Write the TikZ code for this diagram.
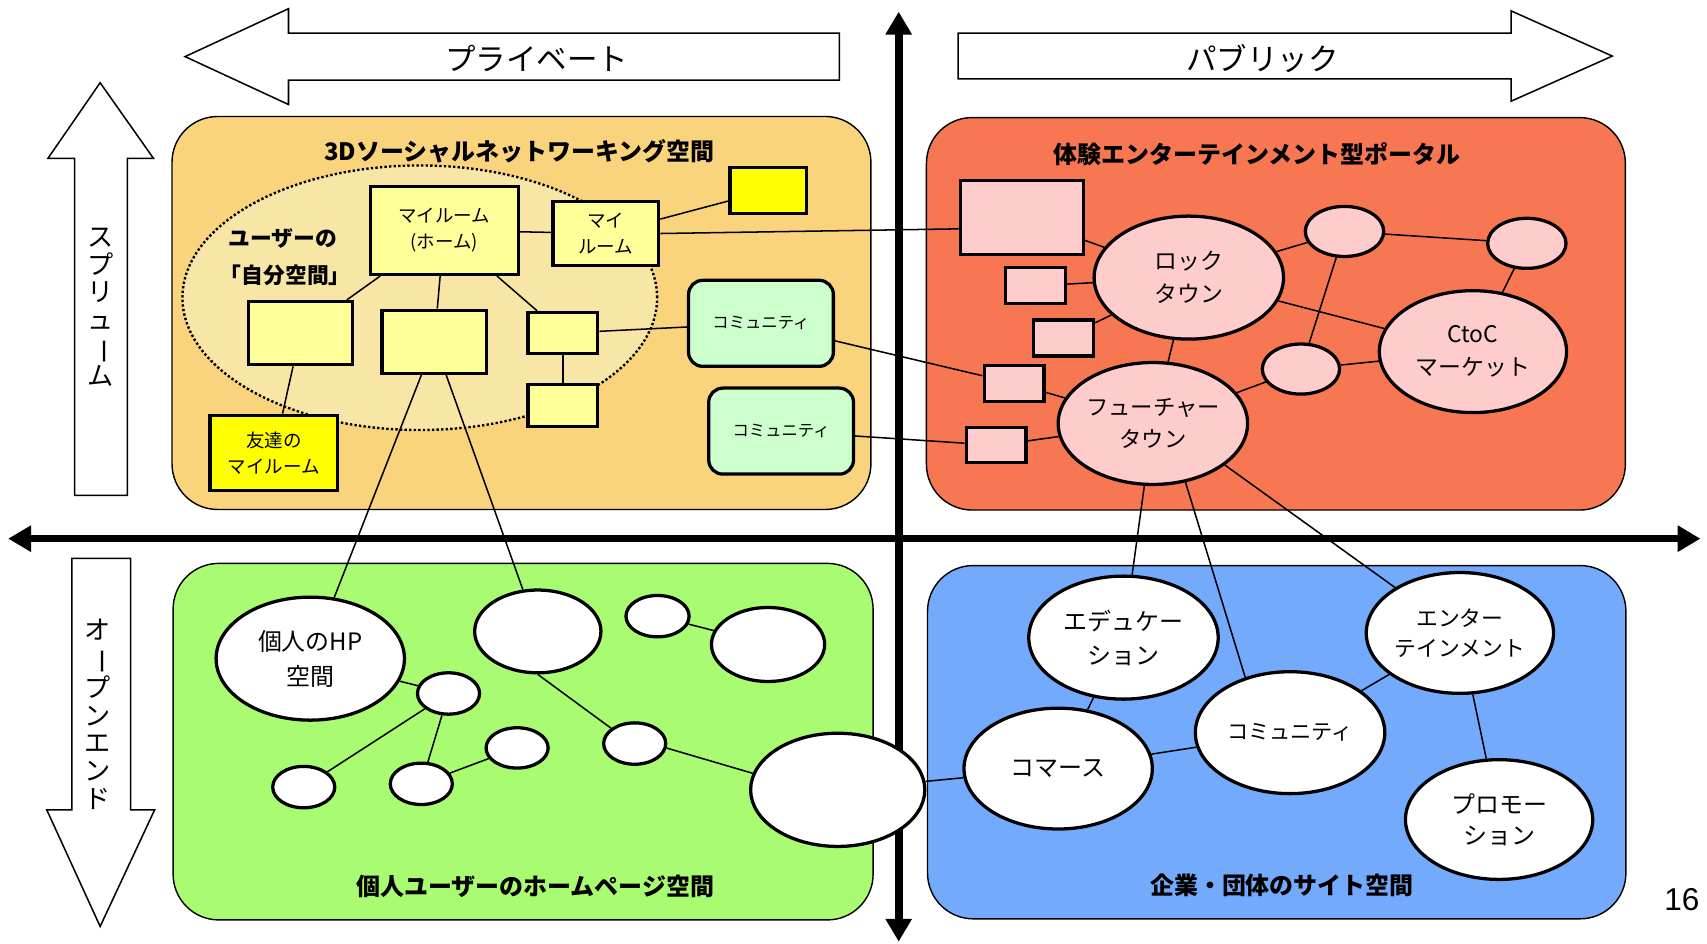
\documentclass[tikz,border=0pt]{standalone}
\usepackage{fontspec}
\setmainfont{Noto Sans CJK JP}
\newfontfamily\numfont{Liberation Sans}
\usepackage{graphicx}
\usetikzlibrary{shapes.geometric,arrows.meta}
\definecolor{orangeQ}{HTML}{FAD47D}
\definecolor{dotfill}{HTML}{F8E6A6}
\definecolor{redQ}{HTML}{F77752}
\definecolor{greenQ}{HTML}{A9FB72}
\definecolor{blueQ}{HTML}{74AAFC}
\definecolor{lyellow}{HTML}{FFFF99}
\definecolor{yyellow}{HTML}{FFFF00}
\definecolor{pinkN}{HTML}{FFCCCC}
\definecolor{commgreen}{HTML}{CCFFCC}
\newcommand\vbar{\rotatebox[origin=c]{-90}{ー}}
\begin{document}
\begin{tikzpicture}[x=1pt,y=-1pt,
  quad/.style={draw=black,line width=1.3pt,rounded corners=42pt},
  barrow/.style={draw=black,line width=1.4pt,fill=white},
  axis/.style={line width=7pt,{Triangle[length=21pt,width=23pt]}-{Triangle[length=21pt,width=23pt]}},
  conn/.style={line width=1.4pt},
  ttl/.style={font=\fontsize{22}{26}\selectfont\bfseries,inner sep=0pt},
  big/.style={font=\fontsize{28}{30}\selectfont,inner sep=0pt},
  vtext/.style={font=\fontsize{24}{25.5}\selectfont,align=center,inner sep=0pt},
  sq/.style={rectangle,draw=black,line width=3pt,inner sep=0pt,align=center,font=\fontsize{17}{24}\selectfont},
  ybox/.style={sq,fill=lyellow},
  yybox/.style={sq,fill=yyellow},
  pbox/.style={sq,fill=pinkN},
  cbox/.style={sq,fill=commgreen,rounded corners=13pt,minimum width=133,minimum height=79,font=\fontsize{15}{18}\selectfont},
  ell/.style={ellipse,draw=black,line width=3pt,inner sep=0pt,align=center,font=\fontsize{21}{30}\selectfont},
  well/.style={ell,fill=white},
  pell/.style={ell,fill=pinkN},
  dotell/.style={ellipse,draw=black,dotted,line width=2.2pt,fill=dotfill,inner sep=0pt}
]
\useasboundingbox (0,0) rectangle (1568,867);
\fill[white] (0,0) rectangle (1568,867);

% quadrants
\draw[quad,fill=orangeQ] (158,107) rectangle (800,468);
\draw[quad,fill=redQ] (851,108) rectangle (1493,468.5);
\draw[quad,fill=greenQ] (159,517.5) rectangle (802,845);
\draw[quad,fill=blueQ] (852,519.5) rectangle (1493.5,844);

% block arrows
\draw[barrow] (170,52) -- (265,8) -- (265,30.5) -- (771,30.5) -- (771,73.5) -- (265,73.5) -- (265,96) -- cycle;
\node[big] (priv) at (493,53.6) {プライベート};
\draw[barrow] (880,30.5) -- (1388,30.5) -- (1388,10) -- (1481,51.5) -- (1388,93) -- (1388,72.5) -- (880,72.5) -- cycle;
\node[big] (pub) at (1159.5,53.6) {パブリック};
\draw[barrow] (92,76) -- (141,145.5) -- (117,145.5) -- (117,455) -- (68.5,455) -- (68.5,145.5) -- (44,145.5) -- cycle;
\node[vtext] (sptxt) at (92,282) {ス\\プ\\リ\\ュ\\\vbar\\ム};
\draw[barrow] (66,513) -- (120,513) -- (120,744) -- (142,744) -- (92,851) -- (43,744) -- (66,744) -- cycle;
\node[vtext] (optxt) at (90,656) {オ\\\vbar\\プ\\ン\\エ\\ン\\ド};

% axes
\coordinate (vtop) at (825.5,10.7);
\coordinate (vbot) at (825.5,865);
\coordinate (hleft) at (7.5,494.8);
\coordinate (hright) at (1562,494.8);
\draw[axis] (vbot) -- (vtop);
\draw[axis] (hleft) -- (hright);

% titles
\node[ttl] (t1) at (477,139) {3Dソーシャルネットワーキング空間};
\node[ttl] (t2) at (1154.5,141.6) {体験エンターテインメント型ポータル};
\node[ttl] (t3) at (491.8,814.4) {個人ユーザーのホームページ空間};
\node[ttl] (t4) at (1177.5,812.9) {企業・団体のサイト空間};
\node[font=\numfont\fontsize{29}{30}\selectfont,inner sep=0pt] (pg) at (1545,826) {16};

% top-left
\node[dotell,minimum width=436,minimum height=243] (self) at (385.6,273.5) {};
\node[font=\fontsize{20}{24}\selectfont\bfseries,inner sep=0pt] (u1) at (260,219) {ユーザーの};
\node[font=\fontsize{20}{24}\selectfont\bfseries,inner sep=0pt] (u2) at (262,253) {「自分空間」};
\node[ybox,minimum width=136,minimum height=81] (home) at (408,211.5) {マイルーム\\(ホーム)};
\node[ybox,minimum width=97,minimum height=59] (myroom) at (556.5,214.5) {マイ\\ルーム};
\node[yybox,minimum width=70,minimum height=42] (yel) at (705.5,175) {};
\node[ybox,minimum width=96,minimum height=58] (box1) at (276,306) {};
\node[ybox,minimum width=96,minimum height=58] (box2) at (399,314) {};
\node[ybox,minimum width=64,minimum height=38] (sm1) at (517,306) {};
\node[ybox,minimum width=64,minimum height=39] (sm2) at (517,372.5) {};
\node[yybox,minimum width=117,minimum height=69] (friend) at (251.5,416) {友達の\\マイルーム};
\node[cbox] (comm1) at (699,297) {コミュニティ};
\node[cbox] (comm2) at (717.5,396) {コミュニティ};

% top-right
\node[pbox,minimum width=113,minimum height=68] (bigsq) at (938.5,200) {};
\node[pbox,minimum width=55,minimum height=33] (pa) at (951,262.5) {};
\node[pbox,minimum width=55,minimum height=33] (pb) at (977,310.5) {};
\node[pbox,minimum width=55,minimum height=33] (pc) at (931.5,352) {};
\node[pbox,minimum width=55,minimum height=32] (pd) at (915,409) {};
\node[pell,minimum width=174,minimum height=113] (rock) at (1092,255) {ロック\\タウン};
\node[pell,minimum width=72,minimum height=46] (topc) at (1235,212.6) {};
\node[pell,minimum width=72,minimum height=46] (toprc) at (1402.5,223.5) {};
\node[pell,minimum width=172,minimum height=112] (ctoc) at (1353,323) {CtoC\\マーケット};
\node[pell,minimum width=71,minimum height=46] (midc) at (1195,339) {};
\node[pell,minimum width=174,minimum height=112,font=\fontsize{20.5}{30}\selectfont] (future) at (1059,389) {フューチャー\\タウン};

% bottom-left
\node[well,minimum width=173,minimum height=113,font=\fontsize{22}{32}\selectfont] (hp) at (285,605) {個人のHP\\空間};
\node[well,minimum width=116,minimum height=76] (bigw) at (494,580) {};
\node[well,minimum width=58,minimum height=38] (s1) at (604,566) {};
\node[well,minimum width=104,minimum height=68] (rt) at (705.5,592) {};
\node[well,minimum width=57,minimum height=38] (s2) at (412,637) {};
\node[well,minimum width=57,minimum height=37] (s3) at (475,687) {};
\node[well,minimum width=57,minimum height=38] (s4) at (583,683) {};
\node[well,minimum width=57,minimum height=38] (s5) at (279,723) {};
\node[well,minimum width=57,minimum height=38] (s6) at (387,720) {};
\node[well,minimum width=160,minimum height=104] (bnd) at (769.5,725.5) {};

% bottom-right
\node[well,minimum width=174,minimum height=113,font=\fontsize{22}{31}\selectfont] (edu) at (1032,585.7) {エデュケー\\ション};
\node[well,minimum width=174,minimum height=112,font=\fontsize{19.5}{28}\selectfont] (commb) at (1185,673) {コミュニティ};
\node[well,minimum width=172,minimum height=111,font=\fontsize{20}{28}\selectfont] (ent) at (1341,581.4) {エンター\\テインメント};
\node[well,minimum width=173,minimum height=111,font=\fontsize{22}{30}\selectfont] (commerce) at (972,706) {コマース};
\node[well,minimum width=172,minimum height=110,font=\fontsize{22}{29}\selectfont] (promo) at (1377,752.8) {プロモー\\ション};

% connectors top-left
\draw[conn] (home) -- (myroom);
\draw[conn] (myroom) -- (yel);
\draw[conn] (myroom.east) -- (bigsq.190);
\draw[conn] (home) -- (box1);
\draw[conn] (home) -- (box2);
\draw[conn] (home) -- (sm1);
\draw[conn] (sm1) -- (comm1);
\draw[conn] (sm1) -- (sm2);
\draw[conn] (box1) -- (friend);
\draw[conn] (box2) -- (hp);
\draw[conn] (box2) -- (bigw);
\draw[conn] (comm1) -- (pc);
\draw[conn] (comm2) -- (pd);
% top-right
\draw[conn] (bigsq) -- (rock);
\draw[conn] (pa) -- (rock);
\draw[conn] (pb) -- (rock);
\draw[conn] (rock) -- (future);
\draw[conn] (pc) -- (future);
\draw[conn] (pd) -- (future);
\draw[conn] (rock) -- (topc);
\draw[conn] (topc) -- (toprc);
\draw[conn] (toprc) -- (ctoc);
\draw[conn] (rock) -- (ctoc);
\draw[conn] (topc) -- (midc);
\draw[conn] (midc) -- (ctoc);
\draw[conn] (midc) -- (future);
\draw[conn] (future) -- (edu);
\draw[conn] (future.-61) -- (commb.129);
\draw[conn] (future.-30) -- (ent.145);
% bottom-left
\draw[conn] (hp) -- (s2);
\draw[conn] (s2) -- (s5);
\draw[conn] (s2) -- (s6);
\draw[conn] (s6) -- (s3);
\draw[conn] (bigw.south) -- (s4.147);
\draw[conn] (s4.-8) -- (bnd.169);
\draw[conn] (s1) -- (rt);
\draw[conn] (bnd) -- (commerce);
% bottom-right
\draw[conn] (edu) -- (commerce);
\draw[conn] (commerce) -- (commb);
\draw[conn] (commb) -- (ent);
\draw[conn] (ent) -- (promo);
\end{tikzpicture}
\end{document}
